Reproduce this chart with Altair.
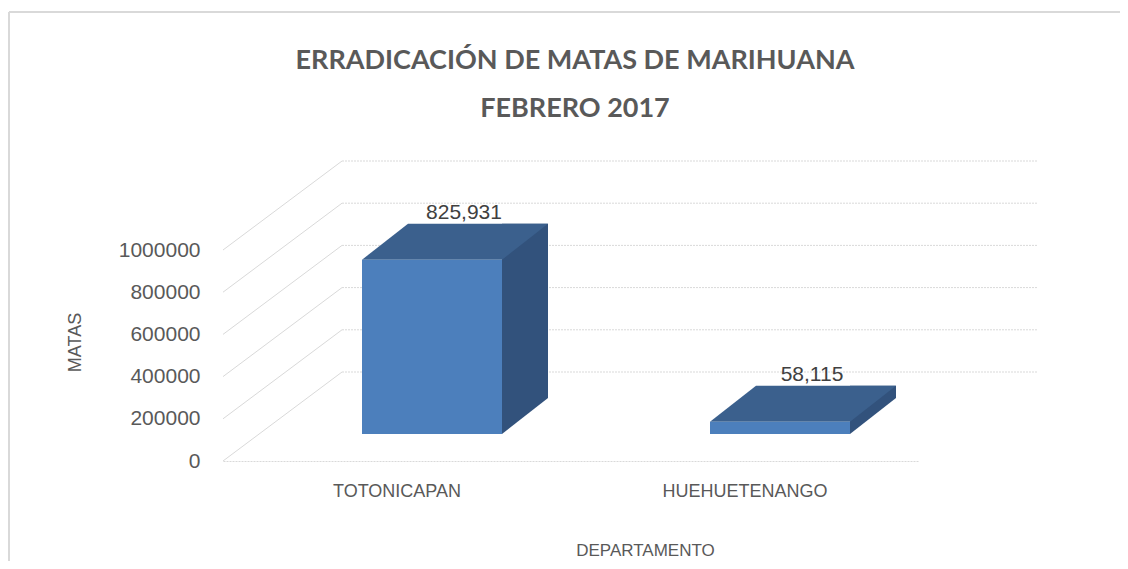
import altair as alt
import pandas as pd

# ---- data ----
departamentos = ["TOTONICAPAN", "HUEHUETENANGO"]
matas = [825931, 58115]
y_ticks = [0, 200000, 400000, 600000, 800000, 1000000]
titulo = ["ERRADICACIÓN DE MATAS DE MARIHUANA", "FEBRERO 2017"]

# ---- style ----
W, H = 696, 211
FRONT = "#4c7fbc"
TOP = "#3b608d"
SIDE = "#32527c"
GRID = "#d9d9d9"
TXT = "#595959"
FONT = "Liberation Sans"

bars = pd.DataFrame({"departamento": departamentos, "matas": matas})
ticks = pd.DataFrame({"v": y_ticks})
one = pd.DataFrame({"k": [0]})

x_scale = alt.Scale(domain=departamentos, paddingInner=0, paddingOuter=0)
y_scale = alt.Scale(domain=[0, 1000000], nice=False)

x_axis = alt.Axis(
    title="DEPARTAMENTO", labelAngle=0, domainColor=GRID, domainDash=[2, 1],
    domainWidth=1, ticks=False, grid=False, labelPadding=30,
    labelBaseline="middle", labelFontSize=18, labelColor=TXT, labelFont=FONT,
    titleFontSize=17, titleColor=TXT, titleFont=FONT, titleFontWeight="normal",
    titleX=422, titleY=89, titleBaseline="middle", titleAlign="center",
)
y_axis = alt.Axis(
    title="MATAS", values=y_ticks, format="d", domain=False, ticks=False,
    grid=False, labelPadding=23, labelFontSize=21, labelColor=TXT,
    labelFont=FONT, titleFontSize=18, titleColor=TXT, titleFont=FONT,
    titleFontWeight="normal", titleX=-148, titleY=92, titleAlign="center",
    titleBaseline="middle", titleAngle=270,
)


def xe():
    return alt.X("departamento:N", scale=x_scale, axis=x_axis)


def ye(field="matas:Q"):
    return alt.Y(field, scale=y_scale, axis=y_axis)


# back wall gridlines
back = alt.Chart(ticks).mark_rule(color=GRID, strokeDash=[2, 1], yOffset=-89, strokeWidth=1).encode(
    y=ye("v:Q"), x=alt.value(119), x2=alt.value(814)
)
# side wall diagonals
diag = alt.Chart(ticks).mark_rule(color=GRID, strokeWidth=1, y2Offset=-89).encode(
    y=ye("v:Q"), y2="v:Q", x=alt.value(0), x2=alt.value(119)
)

# side face (rectangle part)
side = alt.Chart(bars).mark_bar(color=SIDE, width=46, xOffset=128, yOffset=-63, y2Offset=-63).encode(
    x=xe(), y=ye()
)
# side face (bottom triangle)
side_tri = alt.Chart(bars).transform_calculate(base="0").mark_point(
    shape="M105,-63L151,-63L105,-27Z", size=4, filled=True, color=SIDE, opacity=1, strokeWidth=0
).encode(x=xe(), y=ye("base:Q"))
# top face
top = alt.Chart(bars).mark_point(
    shape="M-35,-27L105,-27L151,-63L11,-63Z", size=4, filled=True, color=TOP, opacity=1, strokeWidth=0
).encode(x=xe(), y=ye())
# front face
front = alt.Chart(bars).mark_bar(color=FRONT, width=140, xOffset=35, yOffset=-27, y2Offset=-27).encode(
    x=xe(), y=ye()
)
# value labels
labels = alt.Chart(bars).mark_text(dx=67, dy=-74, fontSize=21, color="#404040", font=FONT).encode(
    x=xe(), y=ye(), text=alt.Text("matas:Q", format=",")
)

# chart frame (left and top edges visible)
frame_l = alt.Chart(one).mark_rule(color=GRID, strokeWidth=2).encode(
    x=alt.value(-214), y=alt.value(-238), y2=alt.value(330)
)
frame_t = alt.Chart(one).mark_rule(color=GRID, strokeWidth=2).encode(
    x=alt.value(-214), x2=alt.value(900), y=alt.value(-238)
)

chart = alt.layer(back, diag, side, side_tri, top, front, labels, frame_l, frame_t).properties(
    width=W,
    height=H,
    padding={"left": 215, "top": 242, "right": 201, "bottom": 100},
    autosize=alt.AutoSizeParams(type="none"),
    title=alt.TitleParams(
        text=titulo, font="Lato", fontSize=27, fontWeight="bold", color=TXT,
        anchor="middle", frame="group", baseline="middle", lineHeight=48,
        offset=-125, dx=4,
    ),
).configure_view(strokeWidth=0)

chart.save("out.html", embed_options={"renderer": "svg", "actions": False})
